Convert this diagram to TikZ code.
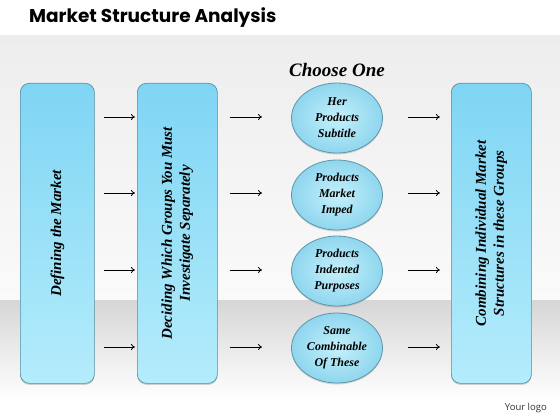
\documentclass[tikz,border=0pt]{standalone}
\usepackage{fontspec}
\setmainfont{Liberation Serif}
\newfontfamily\titlefont{Poppins}
\newfontfamily\logofont{Open Sans}
\usetikzlibrary{shapes.geometric,arrows.meta,shadows}
\definecolor{boxtop}{HTML}{7FD5F4}
\definecolor{boxbot}{HTML}{B4ECFB}
\definecolor{boxedge}{HTML}{5A8FA0}
\definecolor{ellin}{HTML}{C4F0FB}
\definecolor{ellout}{HTML}{8FD6EE}
\definecolor{elledge}{HTML}{5E95A8}
\tikzset{
  x=1pt,y=-1pt,
  bigbox/.style={draw=boxedge,line width=0.7pt,rounded corners=9pt,
    top color=boxtop,bottom color=boxbot,minimum height=300pt,
    drop shadow={shadow xshift=0pt,shadow yshift=-1.5pt,opacity=0.35},
    inner sep=0pt,anchor=north west},
  boxtext/.style={rotate=90,align=center,font=\fontsize{15}{18}\selectfont\bfseries\itshape},
  choice/.style={ellipse,draw=elledge,line width=0.8pt,inner color=ellin,outer color=ellout,
    minimum width=91pt,minimum height=70pt,inner sep=0pt,align=center,
    drop shadow={shadow xshift=0pt,shadow yshift=-1.5pt,opacity=0.3},
    font=\fontsize{12}{16}\selectfont\bfseries\itshape},
  flow/.style={-{To[length=4pt,width=6pt]},line width=0.8pt,black}
}
\begin{document}
\begin{tikzpicture}
\useasboundingbox (0,0) rectangle (560,420);
\fill[white] (0,0) rectangle (560,420);
% background panels
\shade[top color=black!7,bottom color=black!2] (0,36) rectangle (560,300);
\shade[top color=black!16,bottom color=white] (0,300) rectangle (560,400);
% title
\node[anchor=west,font=\titlefont\fontsize{18.5}{20}\selectfont\bfseries,inner sep=0pt] (title) at (29,18) {Market Structure Analysis};
\node[anchor=east,font=\logofont\fontsize{9.5}{11}\selectfont,text=black!80,inner sep=0pt] (logo) at (547,408) {Your logo};
% boxes
\node[bigbox,minimum width=74pt] (b1) at (20,83) {};
\node[bigbox,minimum width=80pt] (b2) at (137,83) {};
\node[bigbox,minimum width=80pt] (b3) at (451,83) {};
\node[boxtext] (t1) at (b1.center) {Defining the Market};
\node[boxtext] (t2) at (b2.center) {Deciding Which Groups You Must\\Investigate Separately};
\node[boxtext] (t3) at (b3.center) {Combining Individual Market\\Structures in these Groups};
% header
\node[font=\fontsize{19}{21}\selectfont\bfseries\itshape] (choose) at (337,70) {Choose One};
% ellipses
\node[choice] (e1) at (337,118) {Her\\Products\\Subtitle};
\node[choice] (e2) at (337,195) {Products\\Market\\Imped};
\node[choice] (e3) at (337,271) {Products\\Indented\\Purposes};
\node[choice] (e4) at (337,348) {Same\\Combinable\\Of These};
% rows
\coordinate (r1) at (0,117);
\coordinate (r2) at (0,193);
\coordinate (r3) at (0,270);
\coordinate (r4) at (0,347);
\foreach \r/\e in {r1/e1,r2/e2,r3/e3,r4/e4}{
  \draw[flow,shorten <=9pt,shorten >=2pt] (b1.east |- \r) -- (b2.west |- \r);
  \draw[flow,shorten <=12pt,shorten >=29pt] (b2.east |- \r) -- (\e.west |- \r);
  \draw[flow,shorten <=25pt,shorten >=11pt] (\e.east |- \r) -- (b3.west |- \r);
}
\end{tikzpicture}
\end{document}
